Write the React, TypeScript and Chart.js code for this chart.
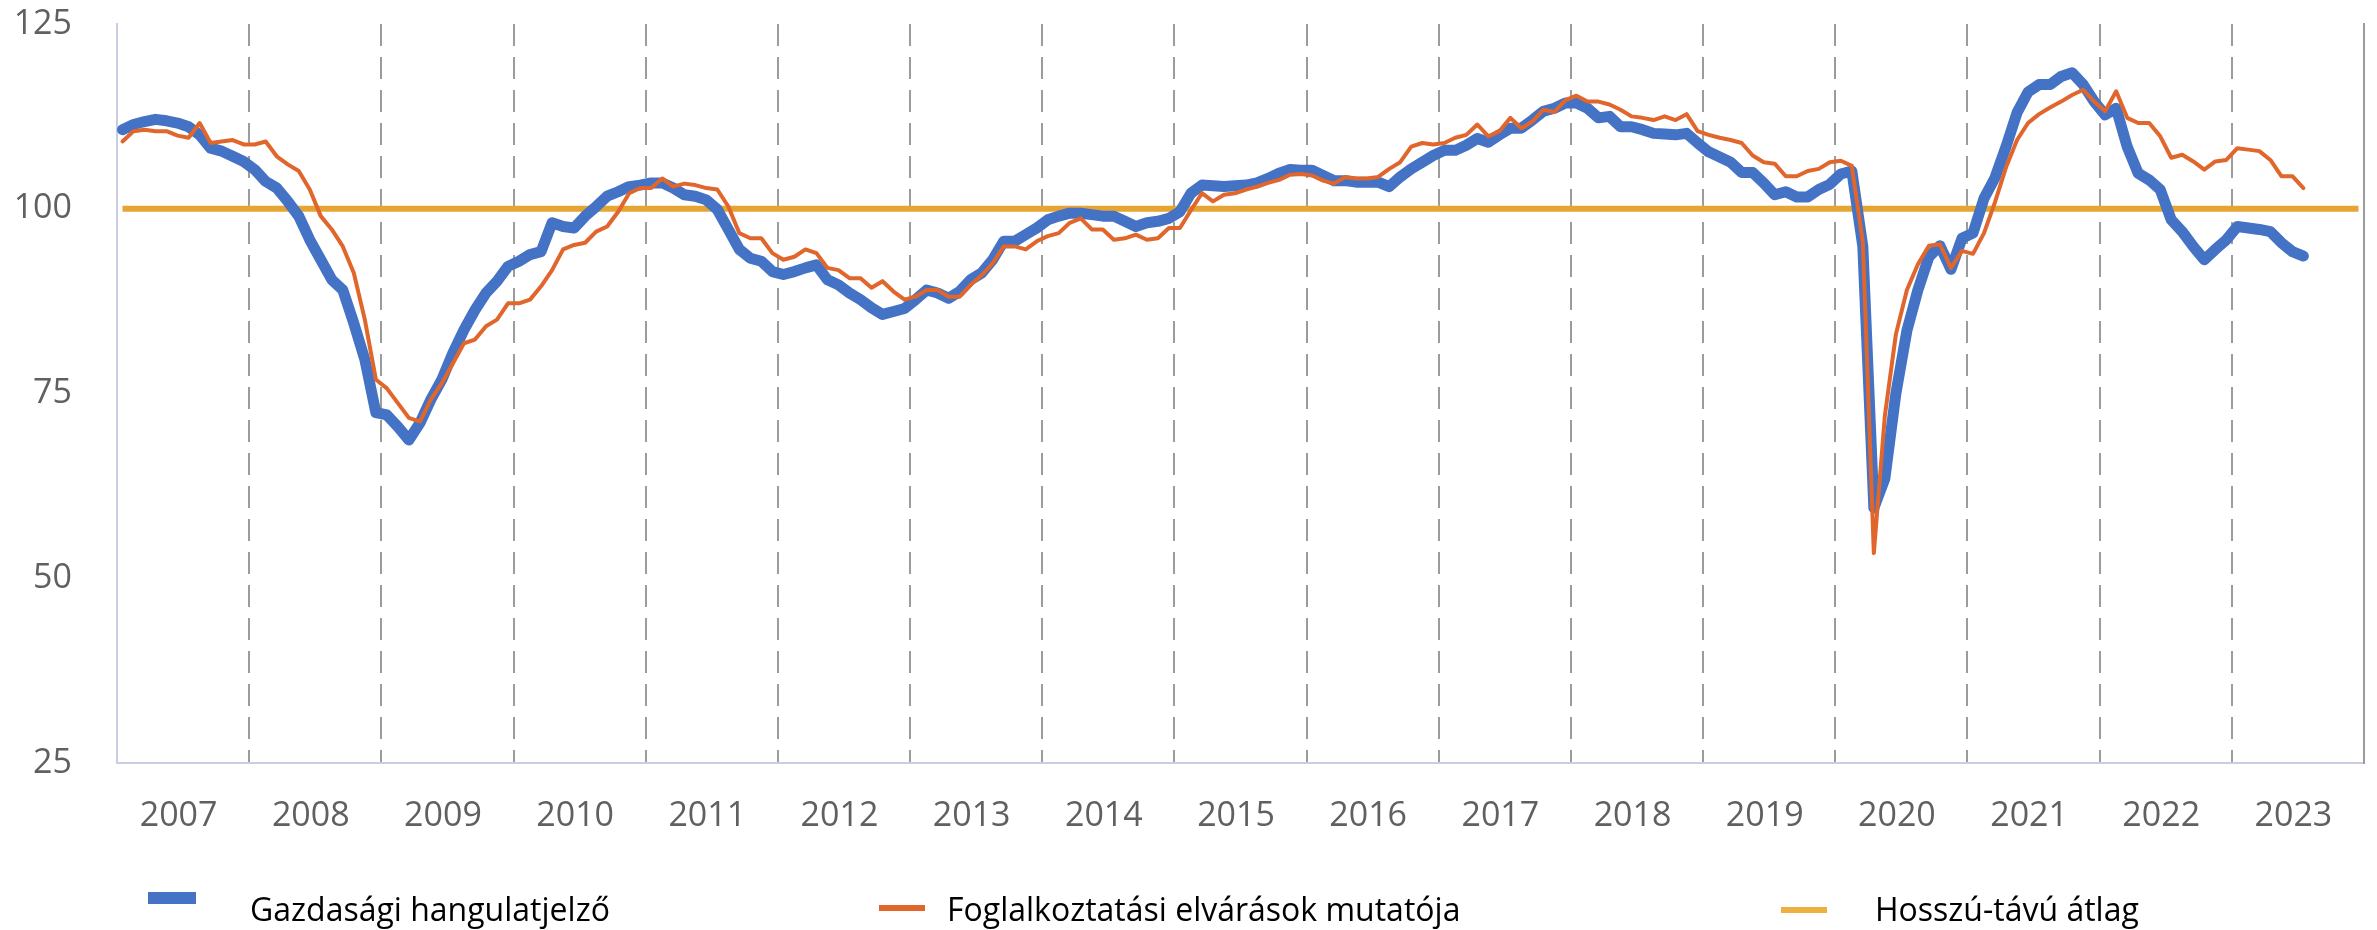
import React, { useEffect, useRef } from 'react';
import { Chart, registerables } from 'chart.js';

Chart.register(...registerables);

// ---- Data ----
const years = ['2007', '2008', '2009', '2010', '2011', '2012', '2013', '2014', '2015', '2016', '2017', '2018', '2019', '2020', '2021', '2022', '2023'];
const monthNames = ['01', '02', '03', '04', '05', '06', '07', '08', '09', '10', '11', '12'];
const categories = years.flatMap((y) => monthNames.map((m) => `${y}-${m}`));

// Gazdasági hangulatjelző (Jan 2007 – Jul 2023, monthly)
const gazdasagiHangulatjelzo = [
  110.7, 111.4, 111.8, 112.1, 111.9, 111.6, 111.1, 110.0, 108.2, 107.8, 107.1, 106.4,
  105.3, 103.7, 102.8, 101.0, 99.0, 95.8, 93.1, 90.4, 89.0, 84.5, 79.6, 72.4,
  72.1, 70.5, 68.7, 71.0, 74.2, 76.9, 80.5, 83.6, 86.3, 88.6, 90.2, 92.2,
  92.9, 93.8, 94.2, 98.1, 97.6, 97.4, 99.0, 100.3, 101.7, 102.3, 103.0, 103.2,
  103.5, 103.5, 102.8, 101.9, 101.7, 101.2, 99.9, 97.2, 94.5, 93.3, 92.9, 91.5,
  91.1, 91.5, 92.0, 92.4, 90.4, 89.7, 88.6, 87.7, 86.6, 85.7, 86.1, 86.5,
  87.7, 89.0, 88.6, 87.9, 88.8, 90.4, 91.3, 93.1, 95.6, 95.6, 96.5, 97.4,
  98.5, 99.0, 99.4, 99.4, 99.2, 99.0, 99.0, 98.3, 97.6, 98.1, 98.3, 98.7,
  99.6, 102.1, 103.2, 103.1, 103.0, 103.1, 103.2, 103.5, 104.1, 104.8, 105.3, 105.2,
  105.2, 104.5, 103.8, 103.8, 103.6, 103.6, 103.6, 103.0, 104.3, 105.4, 106.3, 107.2,
  107.9, 107.9, 108.6, 109.5, 109.0, 110.0, 110.9, 110.9, 112.0, 113.2, 113.6, 114.3,
  114.3, 113.6, 112.3, 112.5, 111.1, 111.1, 110.7, 110.2, 110.1, 110.0, 110.2, 108.9,
  107.7, 107.0, 106.3, 104.9, 104.9, 103.5, 101.9, 102.3, 101.6, 101.6, 102.6, 103.3,
  104.7, 105.1, 94.9, 59.5, 63.5, 75.0, 83.5, 89.0, 93.5, 95.0, 91.8, 96.0,
  96.7, 101.4, 104.2, 108.4, 113.0, 115.8, 116.8, 116.8, 117.9, 118.4, 116.8, 114.5,
  112.7, 113.6, 108.4, 104.8, 103.9, 102.6, 98.5, 96.9, 94.9, 93.1, 94.5, 95.8,
  97.6, 97.4, 97.2, 96.9, 95.4, 94.2, 93.6,
];

// Foglalkoztatási elvárások mutatója (Jan 2007 – Jul 2023, monthly)
const foglalkoztatasiElvarasok = [
  109.1, 110.5, 110.7, 110.5, 110.5, 109.9, 109.6, 111.6, 108.9, 109.1, 109.3, 108.7,
  108.7, 109.1, 107.1, 106.0, 105.1, 102.6, 99.0, 97.2, 94.9, 91.3, 85.0, 76.9,
  75.7, 73.7, 71.7, 71.2, 74.2, 76.4, 79.1, 81.8, 82.3, 84.1, 85.0, 87.2,
  87.2, 87.7, 89.5, 91.7, 94.5, 95.1, 95.4, 96.9, 97.6, 99.6, 102.1, 102.8,
  102.8, 104.1, 103.0, 103.4, 103.2, 102.8, 102.6, 100.3, 96.7, 96.0, 96.0, 94.0,
  93.1, 93.5, 94.5, 94.0, 92.0, 91.7, 90.6, 90.6, 89.3, 90.2, 88.8, 87.7,
  88.1, 89.0, 89.0, 88.1, 88.1, 89.7, 91.0, 92.6, 94.9, 94.9, 94.5, 95.6,
  96.3, 96.7, 98.1, 98.7, 97.2, 97.2, 95.8, 96.0, 96.5, 95.8, 96.0, 97.4,
  97.4, 99.8, 102.1, 101.0, 101.9, 102.1, 102.6, 103.0, 103.5, 103.9, 104.6, 104.7,
  104.5, 103.8, 103.4, 104.3, 104.1, 104.1, 104.3, 105.4, 106.3, 108.4, 108.9, 108.7,
  108.9, 109.6, 110.0, 111.4, 109.8, 110.5, 112.3, 110.9, 111.8, 113.4, 113.1, 114.7,
  115.3, 114.5, 114.5, 114.1, 113.4, 112.5, 112.3, 112.0, 112.5, 112.0, 112.8, 110.5,
  110.0, 109.6, 109.3, 108.9, 107.2, 106.3, 106.1, 104.4, 104.4, 105.1, 105.4, 106.3,
  106.5, 105.8, 95.5, 53.4, 72.0, 83.0, 89.0, 92.5, 95.0, 95.2, 92.0, 94.3,
  93.9, 96.7, 100.9, 105.6, 109.3, 111.6, 112.8, 113.7, 114.5, 115.4, 116.1, 114.5,
  113.2, 115.9, 112.3, 111.6, 111.6, 109.8, 106.9, 107.3, 106.4, 105.3, 106.4, 106.6,
  108.2, 108.0, 107.8, 106.6, 104.4, 104.4, 102.8,
];

const longTermAverage = 100;
const yTicks = [25, 50, 75, 100, 125];

const seriesNames = ['Gazdasági hangulatjelző', 'Foglalkoztatási elvárások mutatója', 'Hosszú-távú átlag'];

// ---- Styles ----
const BLUE = '#4472C4';
const ORANGE = '#E0662C';
const GOLD = '#E6A532';
const AXIS = '#c9cde2';
const GRID = '#9c9c9c';
const TICK_COLOR = '#606060';
const FONT = '"Open Sans", "Noto Sans", sans-serif';

export default function App() {
  const canvasRef = useRef<HTMLCanvasElement | null>(null);

  useEffect(() => {
    const canvas = canvasRef.current;
    if (!canvas) return;
    const avg = categories.map(() => longTermAverage);
    const chart = new Chart(canvas, {
      type: 'line',
      data: {
        labels: categories,
        datasets: [
          {
            label: seriesNames[1],
            data: foglalkoztatasiElvarasok,
            borderColor: ORANGE,
            backgroundColor: ORANGE,
            borderWidth: 4,
            pointRadius: 0,
            tension: 0,
            borderJoinStyle: 'round',
            borderCapStyle: 'round',
            order: 0,
          },
          {
            label: seriesNames[0],
            data: gazdasagiHangulatjelzo,
            borderColor: BLUE,
            backgroundColor: BLUE,
            borderWidth: 11,
            pointRadius: 0,
            tension: 0,
            borderJoinStyle: 'round',
            borderCapStyle: 'round',
            order: 1,
          },
          {
            label: seriesNames[2],
            data: avg,
            borderColor: GOLD,
            backgroundColor: GOLD,
            borderWidth: 6,
            pointRadius: 0,
            tension: 0,
            order: 2,
          },
        ],
      },
      options: {
        responsive: false,
        animation: false,
        events: [],
        layout: { padding: { top: 24, left: 0, right: 0, bottom: 0 } },
        plugins: { legend: { display: false }, tooltip: { enabled: false } },
        scales: {
          x: {
            type: 'category',
            offset: true,
            grid: {
              offset: true,
              drawTicks: false,
              lineWidth: 2,
              color: (ctx: any) =>
                ctx.index > 0 && ctx.index < categories.length && ctx.index % 12 === 0 ? GRID : 'rgba(0,0,0,0)',
            },
            border: { display: true, color: AXIS, width: 2, dash: [22, 11] },
            ticks: {
              autoSkip: false,
              maxRotation: 0,
              minRotation: 0,
              padding: 33,
              labelOffset: -10,
              color: TICK_COLOR,
              font: { family: FONT, size: 34 },
              callback: (_v: any, i: number) => (i % 12 === 6 ? years[Math.floor(i / 12)] : ''),
            },
            afterFit: (s: any) => {
              s.height = 167;
              s.paddingLeft = 0;
              s.paddingRight = 0;
            },
          },
          y: {
            type: 'linear',
            position: 'left',
            min: yTicks[0],
            max: yTicks[yTicks.length - 1],
            grid: { display: false, drawTicks: false },
            border: { display: true, color: AXIS, width: 2 },
            ticks: {
              stepSize: 25,
              padding: 45,
              color: TICK_COLOR,
              font: { family: FONT, size: 34 },
            },
            afterFit: (s: any) => {
              s.width = 117;
              s.paddingTop = 0;
              s.paddingBottom = 0;
            },
          },
          y2: {
            type: 'linear',
            position: 'right',
            grid: { display: false, drawTicks: false },
            border: { display: true, color: GRID, width: 2 },
            ticks: { display: false },
            afterFit: (s: any) => {
              s.width = 13;
              s.paddingTop = 0;
              s.paddingBottom = 0;
            },
          },
        },
      },
    } as any);
    return () => chart.destroy();
  }, []);

  const legendText: React.CSSProperties = {
    position: 'absolute',
    fontFamily: FONT,
    fontSize: 32,
    lineHeight: '40px',
    color: '#000',
    whiteSpace: 'nowrap',
    top: 889,
  };

  return (
    <div style={{ position: 'absolute', left: 0, top: 0, width: 2377, height: 930, background: '#fff', overflow: 'hidden' }}>
      <canvas ref={canvasRef} width={2377} height={930} style={{ display: 'block', width: 2377, height: 930 }} />
      <div style={{ position: 'absolute', left: 148, top: 892, width: 48, height: 12, background: BLUE }} />
      <span style={{ ...legendText, left: 250 }}>{seriesNames[0]}</span>
      <div style={{ position: 'absolute', left: 879, top: 905, width: 46, height: 6, background: ORANGE }} />
      <span style={{ ...legendText, left: 947 }}>{seriesNames[1]}</span>
      <div style={{ position: 'absolute', left: 1781, top: 907, width: 46, height: 6, background: '#EDB040' }} />
      <span style={{ ...legendText, left: 1875 }}>{seriesNames[2]}</span>
    </div>
  );
}
